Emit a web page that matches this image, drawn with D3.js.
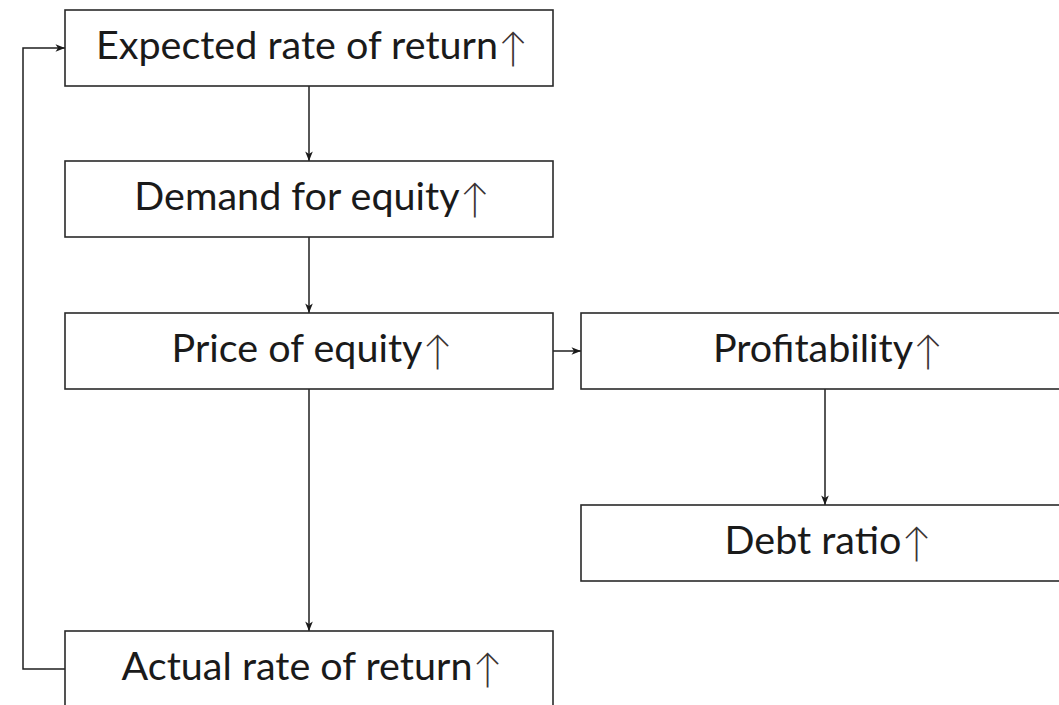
<!DOCTYPE html>
<html>
<head>
<meta charset="utf-8">
<script src="https://cdn.jsdelivr.net/npm/d3@7"></script>
<style>
html,body{margin:0;padding:0;background:#fff;}
svg{display:block;}
</style>
</head>
<body>
<svg id="chart" width="1059" height="705"></svg>
<script>
// ---- data ----
const nodeIds = ["expected", "demand", "price", "profit", "debt", "actual"];
const nodeLabels = ["Expected rate of return", "Demand for equity", "Price of equity", "Profitability", "Debt ratio", "Actual rate of return"];
const nodeCols = [0, 0, 0, 1, 1, 0];
const nodeRows = [0, 1, 2, 2, 3, 4];
const edgeFrom = ["expected", "demand", "price", "price", "profit", "actual"];
const edgeTo   = ["demand", "price", "actual", "profit", "debt", "expected"];
const edgeKind = ["down", "down", "down", "right", "down", "loop"];
const upMark = "↑";

// ---- layout ----
const W = 1059, H = 705;
const boxW = 488, boxH = 76;
const colCenters = [309, 825];
const rowCenters = [48, 199, 351, 543, 669];
const x = d3.scaleOrdinal().domain([0, 1]).range(colCenters);
const y = d3.scaleOrdinal().domain([0, 1, 2, 3, 4]).range(rowCenters);
const loopX = 23;

const nodes = nodeIds.map((id, i) => ({
  id, label: nodeLabels[i], cx: x(nodeCols[i]), cy: y(nodeRows[i])
}));
const byId = Object.fromEntries(nodes.map(n => [n.id, n]));

const svg = d3.select("#chart");
const defs = svg.append("defs");
defs.append("marker")
  .attr("id", "arr")
  .attr("viewBox", "-10 -5 11 10")
  .attr("refX", 0).attr("refY", 0)
  .attr("markerUnits", "userSpaceOnUse")
  .attr("markerWidth", 11).attr("markerHeight", 10)
  .attr("orient", "auto")
  .append("path")
  .attr("d", "M0,0 L-9.5,-3.8 L-7,0 L-9.5,3.8 Z")
  .attr("fill", "#1a1a1a");

const lineColor = "#1f1f1f";

// edges
const edges = edgeFrom.map((f, i) => ({ s: byId[f], t: byId[edgeTo[i]], kind: edgeKind[i] }));
const line = d3.line();
svg.append("g").selectAll("path").data(edges).join("path")
  .attr("d", e => {
    const s = e.s, t = e.t;
    if (e.kind === "down") return line([[s.cx, s.cy + boxH / 2], [t.cx, t.cy - boxH / 2]]);
    if (e.kind === "right") return line([[s.cx + boxW / 2, s.cy], [t.cx - boxW / 2, t.cy]]);
    return line([[s.cx - boxW / 2, s.cy], [loopX, s.cy], [loopX, t.cy], [t.cx - boxW / 2, t.cy]]);
  })
  .attr("fill", "none")
  .attr("stroke", lineColor)
  .attr("stroke-width", 1.5)
  .attr("marker-end", "url(#arr)");

// boxes
const g = svg.append("g").selectAll("g").data(nodes).join("g");
g.append("rect")
  .attr("x", d => d.cx - boxW / 2)
  .attr("y", d => d.cy - boxH / 2)
  .attr("width", boxW).attr("height", boxH)
  .attr("fill", "#fff")
  .attr("stroke", "#2a2a2a")
  .attr("stroke-width", 1.6);

const txt = g.append("text")
  .attr("x", d => d.cx + 3)
  .attr("y", d => d.cy + 11)
  .attr("text-anchor", "middle")
  .attr("font-family", "Lato, 'Liberation Sans', sans-serif")
  .attr("font-size", 39.5)
  .attr("fill", "#1a1a1a");
txt.append("tspan").text(d => d.label);
txt.append("tspan")
  .attr("fill", "#3a3333")
  .attr("font-family", "Lato, 'Noto Sans CJK JP', sans-serif")
  .attr("font-weight", 300)
  .attr("font-size", 40)
  .attr("dx", 0)
  .attr("dy", 3)
  .text(upMark);
</script>
</body>
</html>
